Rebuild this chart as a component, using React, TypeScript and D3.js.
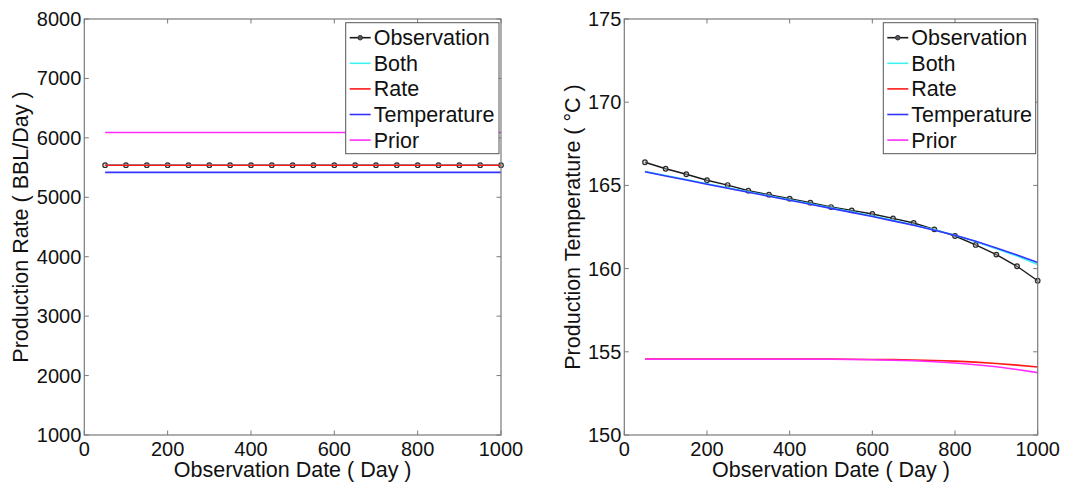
import React from "react";
import * as d3 from "d3";

// Observation days (every 50 days)
const days = [50, 100, 150, 200, 250, 300, 350, 400, 450, 500, 550, 600, 650, 700, 750, 800, 850, 900, 950, 1000];

// Production rate (BBL/Day)
const rateObservation = [5540, 5540, 5540, 5540, 5540, 5540, 5540, 5540, 5540, 5540, 5540, 5540, 5540, 5540, 5540, 5540, 5540, 5540, 5540, 5540];
const rateBoth = [5540, 5540, 5540, 5540, 5540, 5540, 5540, 5540, 5540, 5540, 5540, 5540, 5540, 5540, 5540, 5540, 5540, 5540, 5540, 5540];
const rateRate = [5540, 5540, 5540, 5540, 5540, 5540, 5540, 5540, 5540, 5540, 5540, 5540, 5540, 5540, 5540, 5540, 5540, 5540, 5540, 5540];
const rateTemperature = [5420, 5420, 5420, 5420, 5420, 5420, 5420, 5420, 5420, 5420, 5420, 5420, 5420, 5420, 5420, 5420, 5420, 5420, 5420, 5420];
const ratePrior = [6090, 6090, 6090, 6090, 6090, 6090, 6090, 6090, 6090, 6090, 6090, 6090, 6090, 6090, 6090, 6090, 6090, 6090, 6090, 6090];

// Production temperature (°C)
const tempObservation = [166.39, 166.0, 165.67, 165.31, 165.02, 164.68, 164.44, 164.2, 163.96, 163.7, 163.5, 163.28, 163.02, 162.74, 162.36, 161.96, 161.42, 160.84, 160.14, 159.27];
const tempBoth = [165.84, 165.59, 165.35, 165.1, 164.86, 164.62, 164.38, 164.14, 163.9, 163.65, 163.41, 163.16, 162.9, 162.62, 162.33, 162.01, 161.63, 161.2, 160.75, 160.25];
const tempRate = [154.56, 154.56, 154.56, 154.56, 154.56, 154.56, 154.56, 154.56, 154.56, 154.56, 154.55, 154.54, 154.53, 154.51, 154.48, 154.44, 154.38, 154.3, 154.2, 154.09];
const tempTemperature = [165.82, 165.57, 165.32, 165.07, 164.83, 164.59, 164.35, 164.11, 163.87, 163.62, 163.38, 163.13, 162.87, 162.6, 162.31, 162.0, 161.64, 161.24, 160.82, 160.36];
const tempPrior = [154.55, 154.55, 154.55, 154.55, 154.55, 154.55, 154.55, 154.55, 154.55, 154.55, 154.54, 154.52, 154.49, 154.46, 154.4, 154.33, 154.22, 154.1, 153.94, 153.75];

// Axis ticks
const dayTicks = [0, 200, 400, 600, 800, 1000];
const rateTicks = [1000, 2000, 3000, 4000, 5000, 6000, 7000, 8000];
const tempTicks = [150, 155, 160, 165, 170, 175];

// Legend entries
const seriesNames = ["Observation", "Both", "Rate", "Temperature", "Prior"];
const seriesColors = ["#1a1a1a", "#3ef2f2", "#ff1a1a", "#3434ff", "#ff2cff"];

const FONT = "'Liberation Sans', Arial, sans-serif";
const AXIS_COLOR = "#7a7a7a";
const TEXT_COLOR = "#111111";
const TICK_FONT = 20;
const LABEL_FONT = 21.5;

type PanelProps = {
  x0: number;
  x1: number;
  y0: number;
  y1: number;
  yDomain: [number, number];
  yTicks: number[];
  yLabel: string;
  yLabelX: number;
  values: number[][];
  legendX: number;
  legendRight: number;
};

function Panel(p: PanelProps) {
  const x = d3.scaleLinear().domain([0, 1000]).range([p.x0, p.x1]);
  const y = d3.scaleLinear().domain(p.yDomain).range([p.y1, p.y0]);
  const line = d3
    .line<number>()
    .x((_, i) => x(days[i]))
    .y((v) => y(v));
  const tickLen = 4.5;
  const rowH = 25.6;
  const legendTop = 22.7;
  const legendBottom = 153.7;

  return (
    <g>
      {/* observation line with circle markers, then the model curves on top */}
      <path d={line(p.values[0]) || ""} fill="none" stroke={seriesColors[0]} strokeWidth={1.4} />
      {p.values[0].map((v, i) => (
        <circle key={i} cx={x(days[i])} cy={y(v)} r={2.3} fill="#bbb" fillOpacity={0.4} stroke="#2a2a2a" strokeWidth={1.2} />
      ))}
      {p.values.slice(1).map((vals, si) => (
        <path key={si} d={line(vals) || ""} fill="none" stroke={seriesColors[si + 1]} strokeWidth={1.6} />
      ))}

      {/* axes box */}
      <rect x={p.x0} y={p.y0} width={p.x1 - p.x0} height={p.y1 - p.y0} fill="none" stroke={AXIS_COLOR} strokeWidth={1.2} />
      {dayTicks.map((t) => (
        <g key={"xt" + t}>
          <line x1={x(t)} x2={x(t)} y1={p.y1} y2={p.y1 - tickLen} stroke={AXIS_COLOR} />
          <line x1={x(t)} x2={x(t)} y1={p.y0} y2={p.y0 + tickLen} stroke={AXIS_COLOR} />
          <text x={x(t)} y={p.y1 + 21} textAnchor="middle" fontSize={TICK_FONT} fontFamily={FONT} fill={TEXT_COLOR}>
            {t}
          </text>
        </g>
      ))}
      {p.yTicks.map((t) => (
        <g key={"yt" + t}>
          <line x1={p.x0} x2={p.x0 + tickLen} y1={y(t)} y2={y(t)} stroke={AXIS_COLOR} />
          <line x1={p.x1} x2={p.x1 - tickLen} y1={y(t)} y2={y(t)} stroke={AXIS_COLOR} />
          <text x={p.x0 - 3} y={y(t) + 7} textAnchor="end" fontSize={TICK_FONT} fontFamily={FONT} fill={TEXT_COLOR}>
            {t}
          </text>
        </g>
      ))}

      <text x={(p.x0 + p.x1) / 2} y={477} textAnchor="middle" fontSize={LABEL_FONT} fontFamily={FONT} fill={TEXT_COLOR}>
        Observation Date ( Day )
      </text>
      <text
        transform={`translate(${p.yLabelX},${(p.y0 + p.y1) / 2}) rotate(-90)`}
        textAnchor="middle"
        dy="0.35em"
        fontSize={LABEL_FONT}
        fontFamily={FONT}
        fill={TEXT_COLOR}
      >
        {p.yLabel}
      </text>

      {/* legend */}
      <rect
        x={p.legendX}
        y={legendTop}
        width={p.legendRight - p.legendX}
        height={legendBottom - legendTop}
        fill="#fff"
        stroke="#555"
        strokeWidth={1}
      />
      {seriesNames.map((name, i) => {
        const cy = 37.7 + i * rowH;
        const lx0 = p.legendX + 4;
        const lx1 = p.legendX + 25;
        return (
          <g key={name}>
            <line x1={lx0} x2={lx1} y1={cy} y2={cy} stroke={seriesColors[i]} strokeWidth={1.6} />
            {i === 0 && <circle cx={(lx0 + lx1) / 2} cy={cy} r={2.3} fill="#555" stroke="#333" />}
            <text x={lx1 + 3} y={cy + 7.5} fontSize={LABEL_FONT} fontFamily={FONT} fill={TEXT_COLOR}>
              {name}
            </text>
          </g>
        );
      })}
    </g>
  );
}

export default function App() {
  return (
    <svg width={1066} height={485} style={{ position: "absolute", left: 0, top: 0, background: "#fff" }}>
      <Panel
        x0={84.3}
        x1={501}
        y0={19}
        y1={435}
        yDomain={[1000, 8000]}
        yTicks={rateTicks}
        yLabel="Production Rate ( BBL/Day )"
        yLabelX={20}
        values={[rateObservation, rateBoth, rateRate, rateTemperature, ratePrior]}
        legendX={345.7}
        legendRight={499}
      />
      <Panel
        x0={624.3}
        x1={1037.7}
        y0={19}
        y1={435}
        yDomain={[150, 175]}
        yTicks={tempTicks}
        yLabel="Production Temperature ( °C )"
        yLabelX={572}
        values={[tempObservation, tempBoth, tempRate, tempTemperature, tempPrior]}
        legendX={883.3}
        legendRight={1035.7}
      />
    </svg>
  );
}
